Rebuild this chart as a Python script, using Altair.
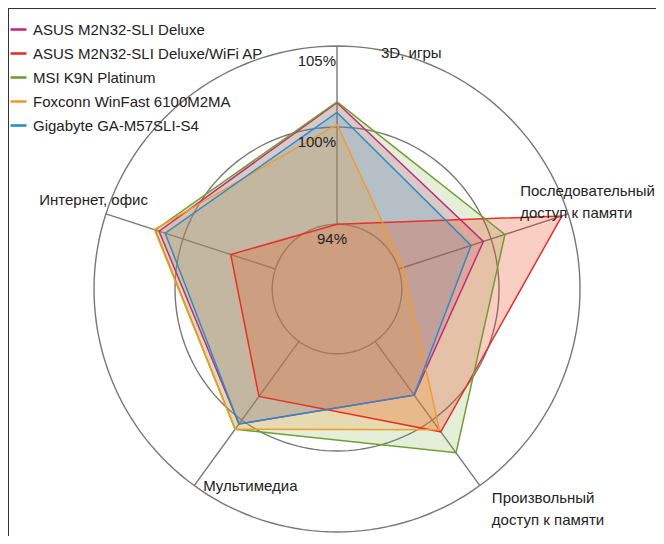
import altair as alt
import pandas as pd

# ---------------- data ----------------
axis_labels = ["3D, игры", "Последовательный\nдоступ к памяти",
               "Произвольный\nдоступ к памяти", "Мультимедиа", "Интернет, офис"]
series = ["ASUS M2N32-SLI Deluxe", "ASUS M2N32-SLI Deluxe/WiFi AP",
          "MSI K9N Platinum", "Foxconn WinFast 6100M2MA", "Gigabyte GA-M57SLI-S4"]
colors = ["#bf2a86", "#e8302a", "#6e9e2f", "#f29b30", "#2b8bcb"]
fill_colors = ["#c0287f", "#e8441a", "#7aa83c", "#eea032", "#3090d0"]
fill_opacity = [0.2, 0.26, 0.2, 0.24, 0.2]
fill_order = [0, 2, 4, 1, 3]

asus = [101.5, 99.5, 98.1, 100.3, 101.55]
asus_wifi = [94.0, 104.6, 100.9, 98.2, 96.9]
msi = [101.55, 100.9, 102.5, 100.7, 101.8]
foxconn = [100.15, 94.3, 100.75, 100.7, 101.85]
gigabyte = [100.9, 98.7, 98.1, 100.3, 101.15]
values = [asus, asus_wifi, msi, foxconn, gigabyte]

levels = [94, 100, 105]
level_labels = ["94%", "100%", "105%"]
BASE = 90

FONT = "Liberation Sans, Arial"
FS = 15

rows = []
for s, vals in zip(series, values):
    for k, v in enumerate(vals):
        rows.append({"series": s, "k": k, "value": v})
df = pd.DataFrame(rows)

xs = alt.Scale(domain=[-20.31, 19.69], nice=False, zero=False)
ys = alt.Scale(domain=[-15.25, 17.35], nice=False, zero=False)
X = lambda f: alt.X(f, type="quantitative", scale=xs, axis=None)
Y = lambda f: alt.Y(f, type="quantitative", scale=ys, axis=None)
cscale = alt.Scale(domain=series, range=colors)
N = len(axis_labels)

# grid circles
circles = []
for lv in levels:
    c = alt.Chart(alt.sequence(0, 361, 2, as_="deg")).transform_calculate(
        r=f"{lv} - {BASE}",
        x="datum.r * sin(datum.deg * PI / 180)",
        y="datum.r * cos(datum.deg * PI / 180)",
    ).mark_line(color="#777777", strokeWidth=1.4).encode(
        x=X("x"), y=Y("y"), order="deg:Q")
    circles.append(c)

# spokes
spoke_df = pd.DataFrame({"k": list(range(N))})
spokes = alt.Chart(spoke_df).transform_calculate(
    a=f"datum.k * 2 * PI / {N}",
    x1=f"({min(levels)} - {BASE}) * sin(datum.a)",
    y1=f"({min(levels)} - {BASE}) * cos(datum.a)",
    x2=f"({max(levels)} - {BASE}) * sin(datum.a)",
    y2=f"({max(levels)} - {BASE}) * cos(datum.a)",
).mark_rule(color="#777777", strokeWidth=1.4).encode(
    x=X("x1"), y=Y("y1"), x2="x2:Q", y2="y2:Q")

poly_base = alt.Chart(df).transform_calculate(
    a=f"datum.k * 2 * PI / {N}",
    r=f"datum.value - {BASE}",
    x="datum.r * sin(datum.a)",
    y="datum.r * cos(datum.a)",
)

# polygon fills, one layer per series in drawing order
fills = []
for i in fill_order:
    f = poly_base.transform_filter(alt.datum.series == series[i]).mark_line(
        interpolate="linear-closed", strokeOpacity=0, fill=fill_colors[i],
        fillOpacity=fill_opacity[i]).encode(x=X("x"), y=Y("y"), order="k:Q")
    fills.append(f)

# polygon outlines (with legend)
outlines = poly_base.mark_line(interpolate="linear-closed", strokeWidth=1.5).encode(
    x=X("x"), y=Y("y"),
    color=alt.Color("series:N", scale=cscale, sort=series, legend=alt.Legend(
        title=None, orient="none", legendX=1, legendY=12, symbolType="stroke",
        symbolSize=256, symbolStrokeWidth=2.6, labelFont=FONT, labelFontSize=FS,
        labelColor="#222222", rowPadding=6, labelOffset=5, padding=0,
        labelLimit=400)),
    order="k:Q",
)

# level labels
lvl_df = pd.DataFrame({"level": levels, "label": level_labels})
lvl_base = alt.Chart(lvl_df).transform_calculate(r=f"datum.level - {BASE}", x0="0")
lvl_text_hi = lvl_base.transform_filter(f"datum.level > {min(levels)}").mark_text(
    align="right", baseline="middle", dx=-1, dy=15, font=FONT, fontSize=FS,
    color="#222222").encode(x=X("x0"), y=Y("r"), text="label:N")
lvl_text_lo = lvl_base.transform_filter(f"datum.level == {min(levels)}").mark_text(
    align="center", baseline="middle", dx=-5, dy=14.5, font=FONT, fontSize=FS,
    color="#222222").encode(x=X("x0"), y=Y("r"), text="label:N")

# axis labels (offsets from the end of each spoke)
label_style = [("left", 44, 7), ("left", -48, -23), ("left", 12, 12),
               ("left", 9, 0), ("right", 42, -14)]
lab_df = pd.DataFrame({"k": list(range(N)), "label": axis_labels})
lab_layers = []
for k, (al, dx, dy) in enumerate(label_style):
    t = alt.Chart(lab_df).transform_filter(f"datum.k == {k}").transform_calculate(
        a=f"datum.k * 2 * PI / {N}",
        x=f"({max(levels)} - {BASE}) * sin(datum.a)",
        y=f"({max(levels)} - {BASE}) * cos(datum.a)",
    ).mark_text(align=al, baseline="middle", dx=dx, dy=dy, font=FONT, fontSize=FS,
                lineBreak="\n", lineHeight=22, color="#222222").encode(
        x=X("x"), y=Y("y"), text="label:N")
    lab_layers.append(t)

# frame (top and left edges)
frame_top = alt.Chart(pd.DataFrame({"a": [0]})).mark_rule(color="#333333", strokeWidth=2).encode(
    x=alt.value(0), x2=alt.value(648), y=alt.value(0))
frame_left = alt.Chart(pd.DataFrame({"a": [0]})).mark_rule(color="#333333", strokeWidth=2).encode(
    x=alt.value(0), y=alt.value(0), y2=alt.value(528))

chart = alt.layer(
    *circles, spokes, *fills, outlines, lvl_text_hi, lvl_text_lo, *lab_layers,
    frame_top, frame_left
).properties(width=648, height=528, padding=0, autosize=alt.AutoSizeParams(type="none")
).configure_view(stroke=None).configure(background="white")

chart.save("out.html", embed_options={"renderer": "svg", "actions": False})
